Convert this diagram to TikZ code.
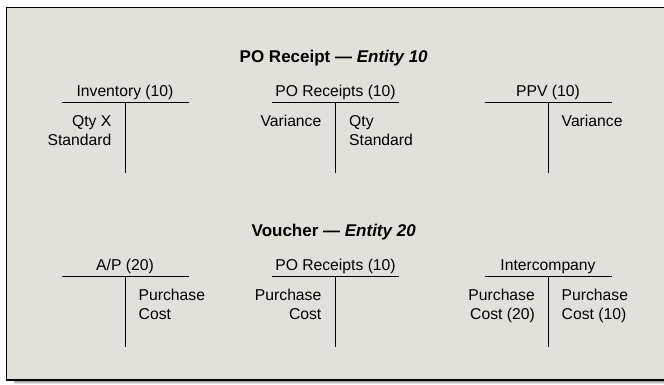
\documentclass[tikz,border=0pt]{standalone}
\usepackage{fontspec}
\setmainfont{Liberation Sans}
\definecolor{panel}{RGB}{227,223,217}
\definecolor{shade}{RGB}{128,128,128}
\tikzset{
  ttl/.style={font=\fontsize{17}{20}\selectfont\bfseries, anchor=base, inner sep=0pt},
  acct/.style={font=\fontsize{15.7}{18.3}\selectfont, anchor=base, inner sep=0pt},
  lside/.style={font=\fontsize{15.7}{18.3}\selectfont, anchor=base east, align=right, inner sep=0pt},
  rside/.style={font=\fontsize{15.7}{18.3}\selectfont, anchor=base west, align=left, inner sep=0pt},
  tline/.style={draw=black, line width=1pt},
}
\begin{document}
\begin{tikzpicture}[x=1pt, y=-1pt]
\useasboundingbox (0,0) rectangle (664,384);
% frame with drop shadow
\fill[shade] (14,380) rectangle (672,384);
\draw[line width=1.6pt, fill=panel] (6.5,7.5) rectangle (672,380);

% ---- PO receipt, entity 10 ----
\node[ttl] (t1) at (333.7,62.5) {PO Receipt — \textit{Entity 10}};

% Inventory (10)
\node[acct] (inv) at (125,96.7) {Inventory (10)};
\coordinate (invL) at (61.5,102.3); \coordinate (invR) at (188.5,102.3);
\coordinate (invT) at (125,102.3); \coordinate (invB) at (125,173);
\draw[tline] (invL) -- (invR); \draw[tline] (invT) -- (invB);
% two-line entries sit on the baseline of their last line
\node[lside] (invD) at (111.5,145) {Qty X\\Standard};

% PO Receipts (10)
\node[acct] (por) at (335.5,96.7) {PO Receipts (10)};
\coordinate (porL) at (272,102.3); \coordinate (porR) at (399,102.3);
\coordinate (porT) at (335.5,102.3); \coordinate (porB) at (335.5,173);
\draw[tline] (porL) -- (porR); \draw[tline] (porT) -- (porB);
\node[lside] (porD) at (321.5,126.7) {Variance};
\node[rside] (porC) at (349,145) {Qty\\Standard};

% PPV (10)
\node[acct] (ppv) at (548,96.7) {PPV (10)};
\coordinate (ppvL) at (484.5,102.3); \coordinate (ppvR) at (611.5,102.3);
\coordinate (ppvT) at (548,102.3); \coordinate (ppvB) at (548,173);
\draw[tline] (ppvL) -- (ppvR); \draw[tline] (ppvT) -- (ppvB);
\node[rside] (ppvC) at (561.5,126.7) {Variance};

% ---- Voucher, entity 20 ----
\node[ttl] (t2) at (333.7,236.5) {Voucher — \textit{Entity 20}};

% A/P (20)
\node[acct] (ap) at (125,270.7) {A/P (20)};
\coordinate (apL) at (61.5,276.3); \coordinate (apR) at (188.5,276.3);
\coordinate (apT) at (125,276.3); \coordinate (apB) at (125,347);
\draw[tline] (apL) -- (apR); \draw[tline] (apT) -- (apB);
\node[rside] (apC) at (138.5,319) {Purchase\\Cost};

% PO Receipts (10)
\node[acct] (por2) at (335.5,270.7) {PO Receipts (10)};
\coordinate (por2L) at (272,276.3); \coordinate (por2R) at (399,276.3);
\coordinate (por2T) at (335.5,276.3); \coordinate (por2B) at (335.5,347);
\draw[tline] (por2L) -- (por2R); \draw[tline] (por2T) -- (por2B);
\node[lside] (por2D) at (321.5,319) {Purchase\\Cost};

% Intercompany
\node[acct] (ic) at (548,270.7) {Intercompany};
\coordinate (icL) at (484.5,276.3); \coordinate (icR) at (611.5,276.3);
\coordinate (icT) at (548,276.3); \coordinate (icB) at (548,347);
\draw[tline] (icL) -- (icR); \draw[tline] (icT) -- (icB);
\node[lside] (icD) at (535,319) {Purchase\\Cost (20)};
\node[rside] (icC) at (561.5,319) {Purchase\\Cost (10)};
\end{tikzpicture}
\end{document}
